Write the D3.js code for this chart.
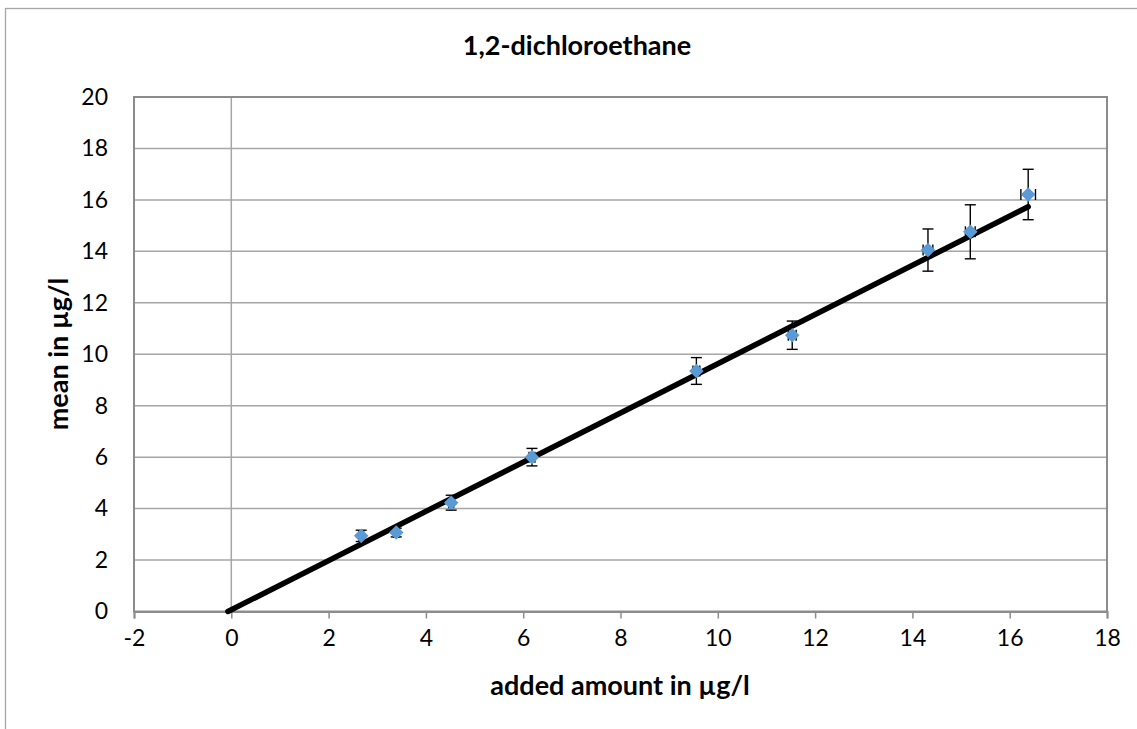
<!DOCTYPE html>
<html><head><meta charset="utf-8">
<script src="https://cdn.jsdelivr.net/npm/d3@7"></script>
<style>body{margin:0;background:#fff;}svg{display:block;font-family:Lato,"Open Sans",sans-serif;}</style>
</head><body>
<svg id="chart" width="1137" height="729"></svg>
<script>
const chartTitle = "1,2-dichloroethane";
const xTitle = "added amount in µg/l";
const yTitle = "mean in µg/l";
const addedAmount = [2.67, 3.39, 4.52, 6.18, 9.56, 11.53, 14.32, 15.19, 16.38];
const meanValue   = [2.94, 3.07, 4.23, 6.00, 9.35, 10.74, 14.05, 14.76, 16.21];
const errMean     = [0.22, 0.17, 0.29, 0.34, 0.52, 0.55, 0.82, 1.05, 0.98];
const errAdded    = [0.05, 0.05, 0.05, 0.06, 0.07, 0.08, 0.10, 0.10, 0.15];
const trendX = [-0.07, 16.38];
const trendSlope = 0.9565, trendIntercept = 0.067;
const xTicks = [-2, 0, 2, 4, 6, 8, 10, 12, 14, 16, 18];
const yTicks = [0, 2, 4, 6, 8, 10, 12, 14, 16, 18, 20];

const svg = d3.select("#chart");
const L = 134, R = 1107, T = 97, B = 611.5;
const x = d3.scaleLinear().domain([-2, 18]).range([L, R]);
const y = d3.scaleLinear().domain([0, 20]).range([B, T]);

// outer chart border
svg.append("rect").attr("x", 5.5).attr("y", 8.5).attr("width", 1160).attr("height", 760)
  .attr("fill", "none").attr("stroke", "#a6a6a6").attr("stroke-width", 1.3);

// gridlines
svg.append("g").selectAll("line").data(yTicks.filter(d => d > 0)).join("line")
  .attr("x1", L).attr("x2", R).attr("y1", d => y(d)).attr("y2", d => y(d))
  .attr("stroke", "#a6a6a6").attr("stroke-width", 1.5);

// vertical axis line at x=0
svg.append("line").attr("x1", x(0)).attr("x2", x(0)).attr("y1", T).attr("y2", B)
  .attr("stroke", "#a6a6a6").attr("stroke-width", 1.5);

// plot area border
svg.append("rect").attr("x", L).attr("y", T).attr("width", R - L).attr("height", B - T)
  .attr("fill", "none").attr("stroke", "#8c8c8c").attr("stroke-width", 2);

const fmt = d => String(d);
// x axis
const xAxis = svg.append("g").attr("transform", `translate(0,${B})`)
  .call(d3.axisBottom(x).tickValues(xTicks).tickSize(7).tickPadding(11).tickFormat(fmt));
xAxis.select(".domain").attr("stroke", "#8c8c8c").attr("stroke-width", 2);
xAxis.selectAll(".tick line").attr("stroke", "#8c8c8c").attr("stroke-width", 1.5);
xAxis.selectAll("text").attr("font-size", 23).attr("font-family", "Lato").attr("fill", "#000");

// y axis labels
const yAxis = svg.append("g").attr("transform", `translate(${L},0)`)
  .call(d3.axisLeft(y).tickValues(yTicks).tickSize(0).tickPadding(26).tickFormat(fmt));
yAxis.select(".domain").remove();
yAxis.selectAll("text").attr("font-size", 23).attr("font-family", "Lato").attr("fill", "#000");

// trendline
svg.append("line")
  .attr("x1", x(trendX[0])).attr("y1", y(trendIntercept + trendSlope * trendX[0]))
  .attr("x2", x(trendX[1])).attr("y2", y(trendIntercept + trendSlope * trendX[1]))
  .attr("stroke", "#000").attr("stroke-width", 5.5).attr("stroke-linecap", "round");

// error bars
const pts = addedAmount.map((d, i) => ({x: d, y: meanValue[i], ey: errMean[i], ex: errAdded[i]}));
const eb = svg.append("g").attr("stroke", "#000").attr("stroke-width", 1.4).attr("fill", "none");
pts.forEach(p => {
  eb.append("line").attr("x1", x(p.x)).attr("x2", x(p.x)).attr("y1", y(p.y - p.ey)).attr("y2", y(p.y + p.ey));
  [p.y - p.ey, p.y + p.ey].forEach(v => eb.append("line").attr("x1", x(p.x) - 5.5).attr("x2", x(p.x) + 5.5).attr("y1", y(v)).attr("y2", y(v)));
  eb.append("line").attr("x1", x(p.x - p.ex)).attr("x2", x(p.x + p.ex)).attr("y1", y(p.y)).attr("y2", y(p.y));
  [p.x - p.ex, p.x + p.ex].forEach(v => eb.append("line").attr("x1", x(v)).attr("x2", x(v)).attr("y1", y(p.y) - 5.5).attr("y2", y(p.y) + 5.5));
});

// markers
svg.append("g").selectAll("path").data(pts).join("path")
  .attr("d", d3.symbol(d3.symbolDiamond2, 135))
  .attr("transform", d => `translate(${x(d.x)},${y(d.y)})`)
  .attr("fill", "#5b9bd5");

// titles
svg.append("text").attr("x", 577).attr("y", 55).attr("text-anchor", "middle")
  .attr("font-size", 27).attr("font-weight", "bold").text(chartTitle);
svg.append("text").attr("x", 620).attr("y", 695).attr("text-anchor", "middle")
  .attr("font-size", 27).attr("font-weight", "bold").text(xTitle);
svg.append("text").attr("transform", "translate(68,354) rotate(-90)").attr("text-anchor", "middle")
  .attr("font-size", 27).attr("font-weight", "bold").text(yTitle);
</script>
</body></html>
